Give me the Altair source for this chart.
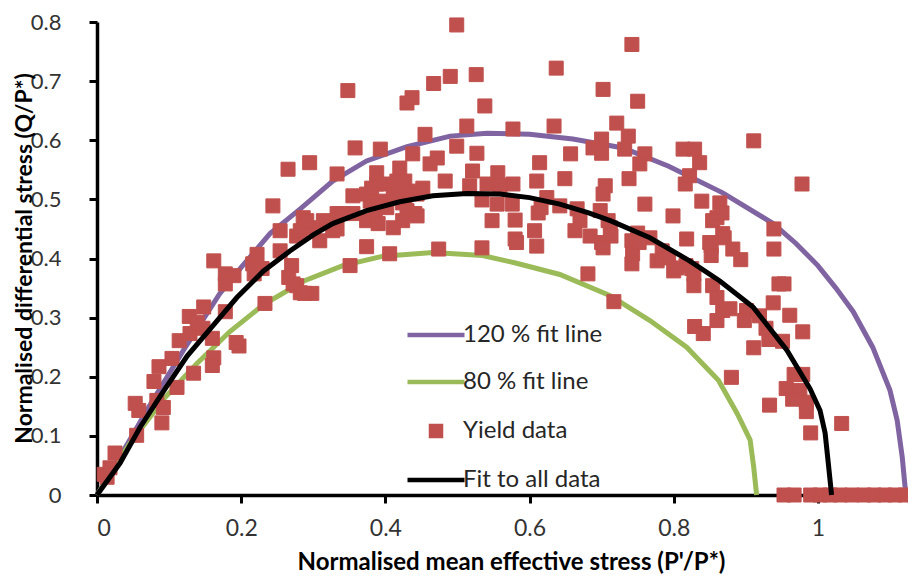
import altair as alt
import pandas as pd

series_names = ["120 % fit line", "80 % fit line", "Yield data", "Fit to all data"]
series_colors = ["#8064A2", "#9BBB59", "#C0504D", "#000000"]
line_path = "M-5.7,0H5.7"
series_shapes = [line_path, line_path, "square", line_path]

# Fit to all data (black)
fit_x = [0, 0.032, 0.060, 0.093, 0.125, 0.160, 0.194, 0.231, 0.268, 0.300, 0.327, 0.374,
         0.420, 0.466, 0.513, 0.559, 0.600, 0.642, 0.682, 0.712, 0.767, 0.822, 0.864,
         0.910, 0.957, 0.989, 1.003, 1.010, 1.014, 1.019]
fit_y = [0, 0.054, 0.115, 0.177, 0.235, 0.285, 0.334, 0.379, 0.413, 0.440, 0.459, 0.481,
         0.496, 0.506, 0.510, 0.509, 0.503, 0.492, 0.477, 0.464, 0.435, 0.396, 0.362,
         0.318, 0.245, 0.180, 0.143, 0.105, 0.059, 0.0]

# 120 % fit line (purple)
up_x = [0, 0.044, 0.070, 0.120, 0.170, 0.200, 0.240, 0.282, 0.327, 0.374, 0.430, 0.490,
        0.541, 0.600, 0.660, 0.730, 0.793, 0.868, 0.938, 0.970, 1.000, 1.025, 1.049,
        1.076, 1.100, 1.110, 1.117, 1.122]
up_y = [0, 0.090, 0.145, 0.245, 0.340, 0.385, 0.442, 0.484, 0.531, 0.565, 0.589, 0.607,
        0.612, 0.610, 0.602, 0.587, 0.556, 0.511, 0.459, 0.425, 0.388, 0.350, 0.310,
        0.250, 0.177, 0.126, 0.064, 0.0]

# 80 % fit line (green)
low_x = [0, 0.046, 0.093, 0.139, 0.184, 0.231, 0.287, 0.341, 0.397, 0.466, 0.535, 0.582,
         0.642, 0.712, 0.767, 0.818, 0.862, 0.888, 0.906, 0.911, 0.915]
low_y = [0, 0.088, 0.163, 0.223, 0.276, 0.322, 0.362, 0.388, 0.404, 0.410, 0.405, 0.392,
         0.373, 0.337, 0.295, 0.250, 0.194, 0.138, 0.093, 0.047, 0.0]

# Yield data (x, y)
yield_pts = [
    (0.010, 0.035), (0.014, 0.030), (0.018, 0.046), (0.025, 0.071), (0.055, 0.101),
    (0.053, 0.155), (0.058, 0.143), (0.083, 0.160), (0.092, 0.148), (0.090, 0.122),
    (0.079, 0.192), (0.086, 0.217), (0.104, 0.231), (0.111, 0.182), (0.134, 0.206),
    (0.114, 0.261), (0.129, 0.273), (0.128, 0.302), (0.148, 0.318), (0.139, 0.292),
    (0.160, 0.265), (0.162, 0.232), (0.160, 0.219), (0.178, 0.310), (0.197, 0.252),
    (0.193, 0.258), (0.147, 0.282),
    (0.162, 0.396), (0.178, 0.374), (0.190, 0.371), (0.178, 0.357), (0.216, 0.391),
    (0.222, 0.407), (0.229, 0.383), (0.218, 0.374), (0.233, 0.324), (0.244, 0.489),
    (0.254, 0.447), (0.254, 0.413), (0.265, 0.551), (0.270, 0.388), (0.272, 0.357),
    (0.266, 0.368), (0.277, 0.438), (0.282, 0.342), (0.277, 0.354), (0.286, 0.469),
    (0.282, 0.447), (0.295, 0.562), (0.300, 0.452), (0.298, 0.341), (0.288, 0.341),
    (0.309, 0.430), (0.314, 0.464), (0.327, 0.447), (0.333, 0.543), (0.333, 0.476),
    (0.348, 0.684), (0.351, 0.388), (0.358, 0.587), (0.355, 0.506), (0.355, 0.476),
    (0.374, 0.420), (0.374, 0.464), (0.379, 0.497), (0.388, 0.526), (0.393, 0.585),
    (0.388, 0.545), (0.341, 0.476), (0.374, 0.509), (0.393, 0.497), (0.386, 0.476),
    (0.390, 0.459), (0.381, 0.519), (0.399, 0.526), (0.333, 0.450), (0.291, 0.464),
    (0.402, 0.486), (0.406, 0.408), (0.411, 0.452), (0.411, 0.509), (0.420, 0.553),
    (0.427, 0.531), (0.427, 0.497), (0.430, 0.663), (0.437, 0.672), (0.438, 0.577),
    (0.441, 0.476), (0.444, 0.509), (0.452, 0.519), (0.455, 0.610), (0.462, 0.560),
    (0.467, 0.696), (0.472, 0.570), (0.474, 0.416), (0.483, 0.531), (0.490, 0.708),
    (0.499, 0.795), (0.499, 0.590), (0.416, 0.531), (0.434, 0.514), (0.424, 0.494),
    (0.430, 0.481), (0.444, 0.472), (0.424, 0.464), (0.416, 0.509),
    (0.526, 0.711), (0.538, 0.658), (0.513, 0.624), (0.527, 0.578), (0.521, 0.548),
    (0.556, 0.545), (0.577, 0.526), (0.517, 0.523), (0.541, 0.526), (0.559, 0.523),
    (0.534, 0.499), (0.555, 0.492), (0.576, 0.492), (0.548, 0.464), (0.580, 0.465),
    (0.580, 0.433), (0.534, 0.418), (0.577, 0.619), (0.582, 0.427),
    (0.637, 0.722), (0.702, 0.686), (0.634, 0.624), (0.700, 0.602), (0.688, 0.587),
    (0.700, 0.578), (0.657, 0.577), (0.614, 0.562), (0.610, 0.531), (0.649, 0.535),
    (0.624, 0.503), (0.642, 0.489), (0.666, 0.484), (0.698, 0.481), (0.612, 0.477),
    (0.607, 0.447), (0.610, 0.421), (0.663, 0.447), (0.670, 0.464), (0.684, 0.438),
    (0.700, 0.427), (0.681, 0.374), (0.705, 0.523), (0.702, 0.509), (0.616, 0.486),
    (0.742, 0.762), (0.750, 0.666), (0.721, 0.629), (0.737, 0.607), (0.732, 0.585),
    (0.760, 0.577), (0.753, 0.560), (0.738, 0.535), (0.760, 0.492), (0.712, 0.452),
    (0.709, 0.464), (0.750, 0.443), (0.767, 0.435), (0.742, 0.430), (0.784, 0.413),
    (0.799, 0.472), (0.717, 0.327), (0.743, 0.408), (0.742, 0.391), (0.777, 0.396),
    (0.713, 0.438), (0.702, 0.418), (0.793, 0.401), (0.752, 0.427),
    (0.813, 0.585), (0.829, 0.585), (0.836, 0.562), (0.822, 0.540), (0.816, 0.526),
    (0.839, 0.497), (0.864, 0.494), (0.860, 0.469), (0.854, 0.464), (0.818, 0.433),
    (0.850, 0.427), (0.868, 0.442), (0.870, 0.435), (0.882, 0.416), (0.893, 0.398),
    (0.852, 0.421), (0.852, 0.405), (0.800, 0.379), (0.817, 0.388), (0.828, 0.374),
    (0.828, 0.354), (0.854, 0.354), (0.804, 0.384), (0.825, 0.383), (0.860, 0.334),
    (0.860, 0.295), (0.829, 0.285), (0.841, 0.273), (0.868, 0.312), (0.880, 0.199),
    (0.878, 0.315), (0.867, 0.477),
    (0.911, 0.599), (0.978, 0.526), (0.939, 0.450), (0.939, 0.416), (0.946, 0.357),
    (0.953, 0.357), (0.938, 0.325), (0.961, 0.304), (0.979, 0.276), (0.901, 0.312),
    (0.898, 0.295), (0.919, 0.303), (0.928, 0.282), (0.932, 0.263), (0.951, 0.260),
    (0.911, 0.249), (0.967, 0.204), (0.979, 0.204), (0.956, 0.180), (0.975, 0.177),
    (0.933, 0.152), (0.965, 0.162), (0.984, 0.157), (0.984, 0.141), (1.033, 0.121),
    (0.990, 0.105),
    (0.953, 0.0), (0.967, 0.0), (0.990, 0.0), (1.003, 0.0), (1.017, 0.0), (1.031, 0.0),
    (1.047, 0.0), (1.064, 0.0), (1.078, 0.0), (1.093, 0.0), (1.107, 0.0), (1.121, 0.0),
    (1.134, 0.0),
]

x_ticks = [0, 0.2, 0.4, 0.6, 0.8, 1]
y_ticks = [0, 0.1, 0.2, 0.3, 0.4, 0.5, 0.6, 0.7, 0.8]

# ---- build tables ----
rows = []
for name, xs, ys in [("120 % fit line", up_x, up_y), ("80 % fit line", low_x, low_y),
                     ("Fit to all data", fit_x, fit_y)]:
    for i, (a, b) in enumerate(zip(xs, ys)):
        rows.append({"series": name, "x": a, "y": b, "idx": i})
curves = pd.DataFrame(rows)
pts = pd.DataFrame({"x": [p[0] for p in yield_pts], "y": [p[1] for p in yield_pts],
                    "series": "Yield data"})

FONT = "Lato"
legend = alt.Legend(
    title=None, orient="none", legendX=327, legendY=301, padding=0,
    labelFont=FONT, labelFontSize=24, labelColor="#262626", labelLimit=300,
    symbolSize=100, symbolStrokeWidth=4.5, labelOffset=15, rowPadding=23,
)

xscale = alt.Scale(domain=[0, 1.125], nice=False, zero=False)
yscale = alt.Scale(domain=[0, 0.8], nice=False)
xaxis = alt.Axis(values=x_ticks, format=".1~f", title="Normalised mean effective stress (P'/P*)",
                 titleX=414, titleY=74, titleBaseline="alphabetic", titleAlign="center",
                 titleFontSize=24, labelFontSize=23, labelPadding=14)
yaxis = alt.Axis(values=y_ticks, format=".1~f", title="Normalised differential stress (Q/P*)",
                 titleX=-66, titleY=236, titleBaseline="alphabetic", titleAlign="center",
                 titleAngle=270, titleFontSize=23, labelFontSize=22, labelPadding=28)

stroke_enc = alt.Stroke("series:N", scale=alt.Scale(domain=series_names, range=series_colors),
                        legend=legend)
fill_enc = alt.Fill("series:N", scale=alt.Scale(domain=series_names, range=series_colors),
                    legend=legend)
shape_enc = alt.Shape("series:N", scale=alt.Scale(domain=series_names, range=series_shapes),
                      legend=legend)

X = alt.X("x:Q", scale=xscale, axis=xaxis)
Y = alt.Y("y:Q", scale=yscale, axis=yaxis)

outer_lines = alt.Chart(curves).transform_filter(
    alt.FieldOneOfPredicate(field="series", oneOf=["120 % fit line", "80 % fit line"])
).mark_line(strokeWidth=5, clip=False).encode(
    x=X, y=Y, stroke=stroke_enc, order="idx:Q", detail="series:N"
)

points = alt.Chart(pts).mark_point(filled=True, size=196, strokeWidth=1, opacity=1).encode(
    x=X, y=Y, fill=fill_enc, stroke=stroke_enc, shape=shape_enc
)

fit_line = alt.Chart(curves).transform_filter(
    alt.datum.series == "Fit to all data"
).mark_line(strokeWidth=5, clip=False).encode(
    x=X, y=Y, stroke=stroke_enc, order="idx:Q", detail="series:N"
)

chart = alt.layer(outer_lines, points, fit_line).properties(
    width=811, height=473,
    autosize=alt.AutoSizeParams(type="none"),
    padding={"left": 89, "top": 14, "right": 0, "bottom": 82},
).configure(font=FONT).configure_view(stroke=None).configure_axis(
    grid=False, domainColor="#000000", domainWidth=3.5, tickColor="#000000",
    tickWidth=3, tickSize=8, labelFont=FONT, labelColor="#333333",
    titleFont=FONT, titleFontWeight="bold", titleColor="#000000",
)

chart.save("out.html", embed_options={"renderer": "svg", "actions": False})
